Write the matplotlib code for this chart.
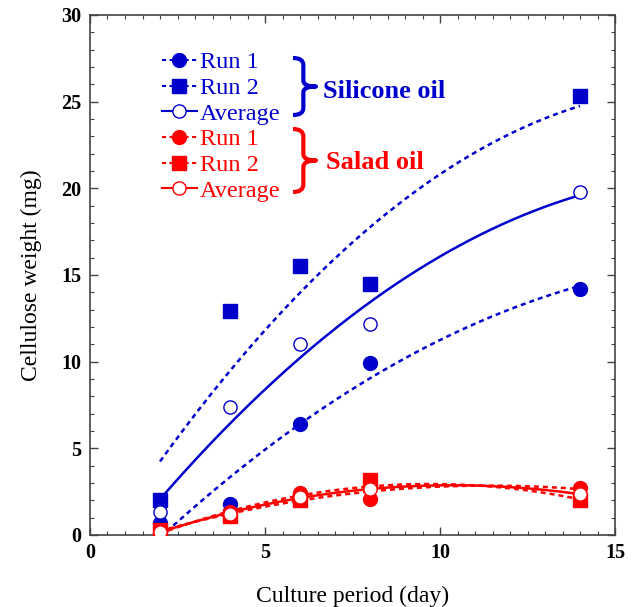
import numpy as np
import matplotlib
matplotlib.use('Agg')
import matplotlib.pyplot as plt
from matplotlib.lines import Line2D
from matplotlib.path import Path
from matplotlib.patches import PathPatch
from matplotlib.transforms import Affine2D

plt.rcParams['font.family'] = ['Liberation Serif', 'DejaVu Serif']

# culture period (day)
days = np.array([2, 4, 6, 8, 14])

# cellulose weight (mg)
sil_run1 = np.array([0.7, 1.8, 6.4, 9.9, 14.2])
sil_run2 = np.array([2.0, 12.9, 15.5, 14.5, 25.3])
sil_avg = np.array([1.35, 7.4, 11.0, 12.2, 19.8])
sal_run1 = np.array([0.1, 1.3, 2.4, 2.1, 2.7])
sal_run2 = np.array([0.3, 1.1, 2.0, 3.2, 2.0])
sal_avg = np.array([0.2, 1.2, 2.2, 2.65, 2.35])

blue = '#0000cc'
red = '#ff0000'

fig = plt.figure(figsize=(6.38, 6.07), dpi=100)
ax = fig.add_axes([90/638, 72/607, 525/638, 520/607])

xfit = np.linspace(days.min(), days.max(), 200)

def draw(y, color, marker, filled, dashed):
    c = np.polyfit(days, y, 2)
    ls = dict(dashes=(2, 1.6)) if dashed else dict(linestyle='-')
    ax.plot(xfit, np.polyval(c, xfit), color=color, lw=1.8, **ls)
    ms = 10.5 if marker == 's' else (10 if filled else 9.5)
    ax.plot(days, y, linestyle='none', marker=marker, ms=ms,
            mfc=color if filled else 'white', mec=color, mew=1.0, zorder=3)

draw(sil_run1, blue, 'o', True, True)
draw(sil_run2, blue, 's', True, True)
draw(sil_avg, blue, 'o', False, False)
draw(sal_run1, red, 'o', True, True)
draw(sal_run2, red, 's', True, True)
draw(sal_avg, red, 'o', False, False)

ax.set_xlim(0, 15)
ax.set_ylim(0, 30)
ax.set_xticks([0, 5, 10, 15])
ax.set_yticks([0, 5, 10, 15, 20, 25, 30])
ax.set_xticks(np.arange(0, 15.01, 0.5), minor=True)
ax.set_yticks(np.arange(0, 30.01, 1), minor=True)
ax.tick_params(which='both', direction='in', top=True, right=True, color='#444444')
ax.tick_params(which='major', length=6, width=1, labelsize=14.5, pad=6)
ax.tick_params(which='minor', length=3, width=0.8)
for lab in ax.get_xticklabels() + ax.get_yticklabels():
    lab.set_fontweight('bold')
for s in ax.spines.values():
    s.set_color('#444444')
    s.set_linewidth(1.2)

ax.set_xlabel('Culture period (day)', fontsize=17, labelpad=16)
ax.set_ylabel('Cellulose weight (mg)', fontsize=17, labelpad=14)

# legend
def handle(color, marker, filled, dashed):
    return Line2D([], [], color=color, lw=1.5, linestyle='--' if dashed else '-',
                  dashes=(2, 1.6) if dashed else (None, None),
                  marker=marker, ms=10 if filled else 9.5,
                  mfc=color if filled else 'white', mec=color)

handles = [handle(blue, 'o', True, True), handle(blue, 's', True, True),
           handle(blue, 'o', False, False), handle(red, 'o', True, True),
           handle(red, 's', True, True), handle(red, 'o', False, False)]
labels = ['Run 1', 'Run 2', 'Average', 'Run 1', 'Run 2', 'Average']
leg = ax.legend(handles, labels, loc='upper left', bbox_to_anchor=(0.137, 0.93),
                frameon=False, fontsize=17.5, handlelength=1.44, handletextpad=0.12,
                labelspacing=0.15, borderpad=0, borderaxespad=0, numpoints=1)
for t, col in zip(leg.get_texts(), [blue]*3 + [red]*3):
    t.set_color(col)

# braces (unit box shape) and group names
bverts = [(0, 1), (0.45, 1), (0.45, 0.88), (0.45, 0.6), (0.45, 0.5), (1, 0.5),
          (0.45, 0.5), (0.45, 0.4), (0.45, 0.12), (0.45, 0), (0, 0)]
bcodes = [Path.MOVETO, Path.CURVE3, Path.CURVE3, Path.LINETO, Path.CURVE3, Path.CURVE3,
          Path.CURVE3, Path.CURVE3, Path.LINETO, Path.CURVE3, Path.CURVE3]
brace = Path(bverts, bcodes)
for top, bottom, color in [(58, 115, blue), (129, 192, red)]:
    tr = Affine2D().scale(23, bottom - top).translate(293, 607 - bottom)
    ax.add_artist(PathPatch(brace, transform=tr, fc='none', ec=color, lw=3,
                            capstyle='butt', joinstyle='round'))

ax.text(0.444, 0.852, 'Silicone oil', transform=ax.transAxes, color=blue,
        fontsize=19, fontweight='bold', va='center', ha='left')
ax.text(0.450, 0.717, 'Salad oil', transform=ax.transAxes, color=red,
        fontsize=19, fontweight='bold', va='center', ha='left')

fig.savefig('out.png', dpi=100)
